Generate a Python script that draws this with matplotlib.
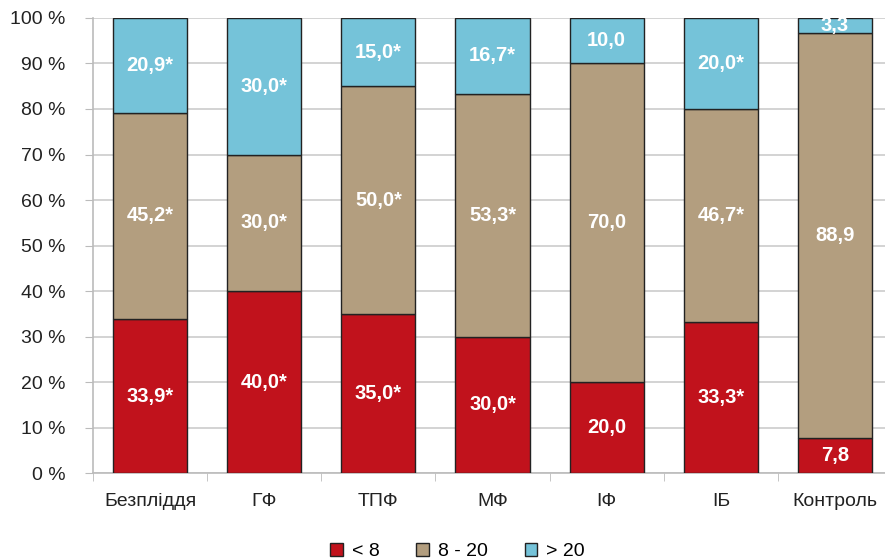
import numpy as np
import matplotlib
matplotlib.use("Agg")
import matplotlib.pyplot as plt
from matplotlib.ticker import FixedLocator

plt.rcParams['font.family'] = ['Liberation Sans', 'DejaVu Sans']

categories = ['Безпліддя', 'ГФ', 'ТПФ', 'МФ', 'ІФ', 'ІБ', 'Контроль']
series_names = ['< 8', '8 - 20', '> 20']
low = [33.9, 40.0, 35.0, 30.0, 20.0, 33.3, 7.8]
mid = [45.2, 30.0, 50.0, 53.3, 70.0, 46.7, 88.9]
high = [20.9, 30.0, 15.0, 16.7, 10.0, 20.0, 3.3]
# significance marks per segment
low_star = [1, 1, 1, 1, 0, 1, 0]
mid_star = [1, 1, 1, 1, 0, 1, 0]
high_star = [1, 1, 1, 1, 0, 1, 0]

colors = ['#C1121C', '#B39E7F', '#75C3D9']

fig = plt.figure(figsize=(8.85, 5.6), dpi=100)
ax = fig.add_axes([0.105, 0.155, 0.903, 0.813])

x = np.arange(len(categories))
bottom = np.zeros(len(categories))
for vals, stars, col, name in zip([low, mid, high], [low_star, mid_star, high_star],
                                  colors, series_names):
    vals = np.array(vals)
    ax.bar(x, vals, width=0.65, bottom=bottom, color=col, edgecolor='#222222',
           linewidth=1.0, label=name, zorder=3)
    for xi, b, v, s in zip(x, bottom, vals, stars):
        txt = f'{v:.1f}'.replace('.', ',') + ('*' if s else '')
        ax.text(xi, b + v / 2, txt, ha='center', va='center', color='white',
                fontsize=14.5, fontweight='bold', zorder=4)
    bottom += vals

ax.set_xlim(-0.5, len(categories) - 0.5)
ax.set_ylim(0, 100)
ax.set_yticks(np.arange(0, 101, 10))
ax.set_yticklabels([f'{v} %' for v in range(0, 101, 10)], fontsize=14, color='#222222')
ax.set_xticks(x)
ax.set_xticklabels(categories, fontsize=14, color='#222222')
ax.xaxis.set_minor_locator(FixedLocator(np.arange(-0.5, len(categories), 1.0)))
ax.tick_params(axis='x', which='major', length=0, pad=14)
ax.tick_params(axis='x', which='minor', length=6, color='#BBBBBB', direction='out')
ax.tick_params(axis='y', length=6, color='#BBBBBB', pad=14)

ax.grid(axis='y', color='#CCCCCC', linewidth=1.2, zorder=0)
ax.set_axisbelow(True)
for side in ['top', 'right']:
    ax.spines[side].set_visible(False)
for side in ['left', 'bottom']:
    ax.spines[side].set_color('#BBBBBB')
    ax.spines[side].set_linewidth(1.2)

fig.legend(loc='lower center', bbox_to_anchor=(0.517, -0.031), ncol=3, frameon=False,
           fontsize=14, handlelength=0.65, handleheight=0.65, columnspacing=1.9,
           handletextpad=0.45)

fig.savefig('out.png', dpi=100)
